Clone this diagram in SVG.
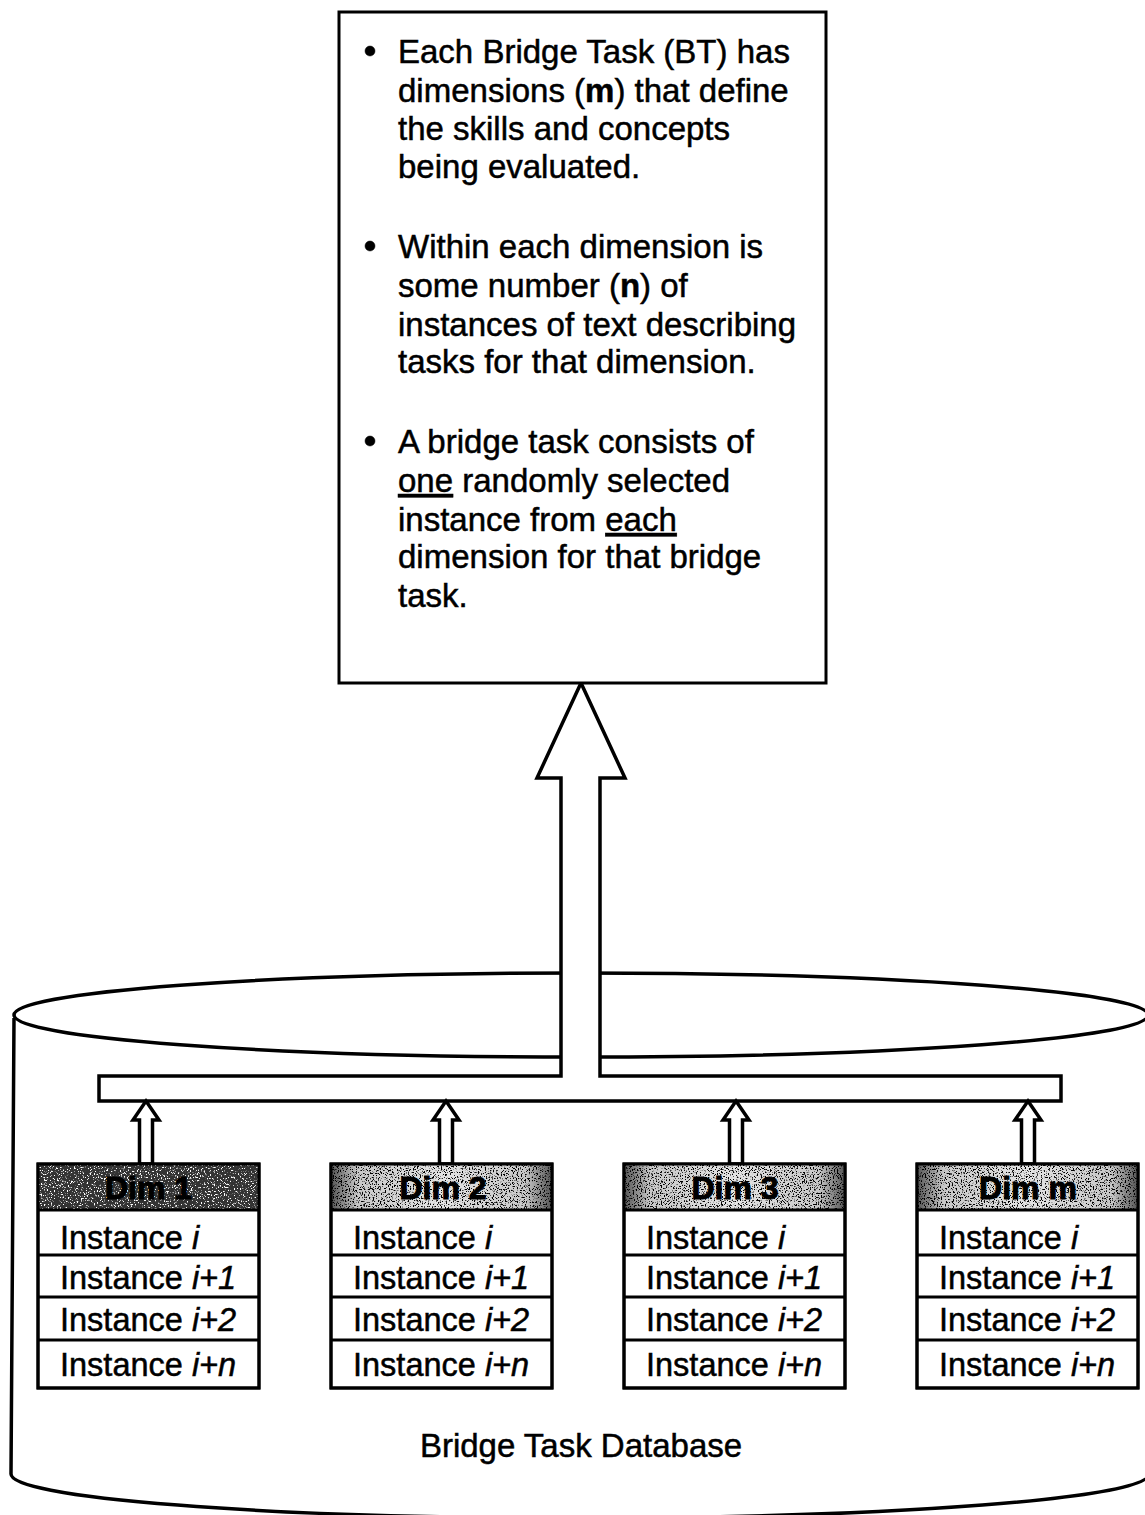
<svg xmlns="http://www.w3.org/2000/svg" width="1145" height="1515" viewBox="0 0 1145 1515">
<style>
.ln{fill:none;stroke:#000;stroke-width:3.5;stroke-linejoin:round}
.wf{fill:#fff;stroke:#000;stroke-width:3.5;stroke-linejoin:miter}
.box{fill:#fff;stroke:#000;stroke-width:3}
.outline{fill:none;stroke:#000;stroke-width:3}
.t{font-family:"Liberation Sans",Arial,Helvetica,sans-serif;fill:#000;stroke:#000;stroke-width:0.5}
.body{font-size:33px}
.inst{font-size:32.5px}
.hdr{font-size:32px;font-weight:bold;text-anchor:middle;stroke-width:1}
</style>
<defs>
<filter id="grain" x="0" y="0" width="1" height="1">
<feTurbulence type="fractalNoise" baseFrequency="0.75" numOctaves="2" seed="4" result="n"/>
<feColorMatrix in="n" type="matrix" values="0 0 0 0 0  0 0 0 0 0  0 0 0 0 0  9 0 0 0 -4.9"/>
</filter>
<filter id="grainDark" x="0" y="0" width="1" height="1">
<feTurbulence type="fractalNoise" baseFrequency="0.7" numOctaves="2" seed="7" result="n"/>
<feColorMatrix in="n" type="matrix" values="0 0 0 0 1  0 0 0 0 1  0 0 0 0 1  9 0 0 0 -5.2"/>
</filter>
<linearGradient id="hg" x1="0" y1="0" x2="1" y2="0">
<stop offset="0" stop-color="#555"/>
<stop offset="0.12" stop-color="#c8c8c8"/>
<stop offset="0.5" stop-color="#e4e4e4"/>
<stop offset="0.88" stop-color="#c8c8c8"/>
<stop offset="1" stop-color="#555"/>
</linearGradient>
</defs>

<g id="database">
<ellipse class="ln" cx="581" cy="1015" rx="567" ry="42"/>
<path class="ln" d="M14 1018 L11 1474 A569 44 0 0 0 1149 1474 L1148 1018"/>
<text class="t" x="581" y="1457" font-size="33" text-anchor="middle">Bridge Task Database</text>
</g>

<g id="connectors">
<path class="wf" d="M99 1076 H561 V778 H537 L581 683 L625 778 H600 V1076 H1061 V1101 H99 Z"/>
<polygon class="wf" points="146,1101 159,1120 152.5,1120 152.5,1164 139.5,1164 139.5,1120 133,1120"/>
<polygon class="wf" points="446,1101 459,1120 452.5,1120 452.5,1164 439.5,1164 439.5,1120 433,1120"/>
<polygon class="wf" points="736,1101 749,1120 742.5,1120 742.5,1164 729.5,1164 729.5,1120 723,1120"/>
<polygon class="wf" points="1028,1101 1041,1120 1034.5,1120 1034.5,1164 1021.5,1164 1021.5,1120 1015,1120"/>
</g>

<g id="bt-box">
<rect class="box" x="339" y="12" width="487" height="671"/>
<g class="t body">
<circle cx="370" cy="51" r="5"/>
<text x="398" y="63">Each Bridge Task (BT) has</text>
<text x="398" y="102">dimensions (<tspan font-weight="bold">m</tspan>) that define</text>
<text x="398" y="140">the skills and concepts</text>
<text x="398" y="178">being evaluated.</text>
<circle cx="370" cy="246" r="5"/>
<text x="398" y="258">Within each dimension is</text>
<text x="398" y="297">some number (<tspan font-weight="bold">n</tspan>) of</text>
<text x="398" y="336">instances of text describing</text>
<text x="398" y="373">tasks for that dimension.</text>
<circle cx="370" cy="441" r="5"/>
<text x="398" y="453">A bridge task consists of</text>
<text x="398" y="492"><tspan text-decoration="underline">one</tspan> randomly selected</text>
<text x="398" y="531">instance from <tspan text-decoration="underline">each</tspan></text>
<text x="398" y="568">dimension for that bridge</text>
<text x="398" y="607">task.</text>
</g>
</g>

<g id="dim1">
<rect class="box" x="38" y="1164" width="221" height="224"/>
<rect x="38" y="1164" width="221" height="46" fill="#333"/>
<rect x="38" y="1164" width="221" height="46" filter="url(#grainDark)"/>
<text class="t hdr" x="148.5" y="1199">Dim 1</text>
<rect class="outline" x="38" y="1164" width="221" height="224"/>
<path class="outline" d="M38 1210 H259 M38 1255 H259 M38 1297 H259 M38 1340 H259"/>
<g class="t inst">
<text x="60" y="1249">Instance <tspan font-style="italic">i</tspan></text>
<text x="60" y="1289">Instance <tspan font-style="italic">i+1</tspan></text>
<text x="60" y="1331">Instance <tspan font-style="italic">i+2</tspan></text>
<text x="60" y="1376">Instance <tspan font-style="italic">i+n</tspan></text>
</g>
</g>

<g id="dim2">
<rect class="box" x="331" y="1164" width="221" height="224"/>
<rect x="331" y="1164" width="221" height="46" fill="url(#hg)"/>
<rect x="331" y="1164" width="221" height="46" filter="url(#grain)"/>
<text class="t hdr" x="443" y="1199">Dim 2</text>
<rect class="outline" x="331" y="1164" width="221" height="224"/>
<path class="outline" d="M331 1210 H552 M331 1255 H552 M331 1297 H552 M331 1340 H552"/>
<g class="t inst">
<text x="353" y="1249">Instance <tspan font-style="italic">i</tspan></text>
<text x="353" y="1289">Instance <tspan font-style="italic">i+1</tspan></text>
<text x="353" y="1331">Instance <tspan font-style="italic">i+2</tspan></text>
<text x="353" y="1376">Instance <tspan font-style="italic">i+n</tspan></text>
</g>
</g>

<g id="dim3">
<rect class="box" x="624" y="1164" width="221" height="224"/>
<rect x="624" y="1164" width="221" height="46" fill="url(#hg)"/>
<rect x="624" y="1164" width="221" height="46" filter="url(#grain)"/>
<text class="t hdr" x="735" y="1199">Dim 3</text>
<rect class="outline" x="624" y="1164" width="221" height="224"/>
<path class="outline" d="M624 1210 H845 M624 1255 H845 M624 1297 H845 M624 1340 H845"/>
<g class="t inst">
<text x="646" y="1249">Instance <tspan font-style="italic">i</tspan></text>
<text x="646" y="1289">Instance <tspan font-style="italic">i+1</tspan></text>
<text x="646" y="1331">Instance <tspan font-style="italic">i+2</tspan></text>
<text x="646" y="1376">Instance <tspan font-style="italic">i+n</tspan></text>
</g>
</g>

<g id="dimm">
<rect class="box" x="917" y="1164" width="221" height="224"/>
<rect x="917" y="1164" width="221" height="46" fill="url(#hg)"/>
<rect x="917" y="1164" width="221" height="46" filter="url(#grain)"/>
<text class="t hdr" x="1028" y="1199">Dim m</text>
<rect class="outline" x="917" y="1164" width="221" height="224"/>
<path class="outline" d="M917 1210 H1138 M917 1255 H1138 M917 1297 H1138 M917 1340 H1138"/>
<g class="t inst">
<text x="939" y="1249">Instance <tspan font-style="italic">i</tspan></text>
<text x="939" y="1289">Instance <tspan font-style="italic">i+1</tspan></text>
<text x="939" y="1331">Instance <tspan font-style="italic">i+2</tspan></text>
<text x="939" y="1376">Instance <tspan font-style="italic">i+n</tspan></text>
</g>
</g>
</svg>
